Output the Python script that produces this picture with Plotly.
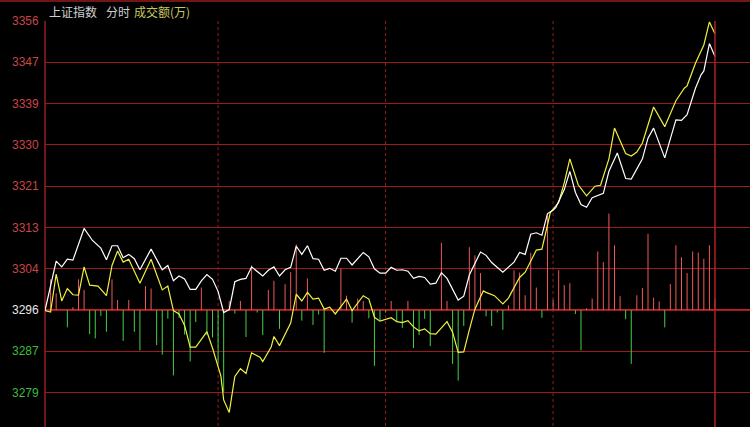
import plotly.graph_objects as go

# ---------------- data ----------------
pre_close = 3296.0
grid_step = 8.6
tick_labels = ["3356", "3347", "3339", "3330", "3321", "3313", "3304", "3296", "3287", "3279"]
session_marks = [62, 122, 182]   # dotted hour separators (minute index)
last_minute = 240

white_t = [0, 4, 6, 8, 10, 14, 17, 20, 22, 24, 26, 28, 30, 32, 34, 38, 42, 44, 46, 48,
           50, 52, 54, 56, 58, 60, 62, 64, 66, 68, 70, 72, 74, 78, 80, 82, 84, 86, 88, 90,
           92, 94, 96, 98, 100, 102, 104, 106, 108, 110, 114, 116, 118, 120, 122, 124, 126, 128, 130, 132,
           134, 136, 138, 140, 142, 144, 148, 150, 152, 154, 156, 158, 160, 164, 166, 168, 170, 172, 174, 176,
           178, 180, 182, 183, 186, 188, 190, 192, 194, 196, 200, 202, 205, 208, 210, 212, 214, 216, 218, 222,
           226, 228, 230, 233, 235, 236, 238, 240]
white_v = [3295.9, 3306.2, 3305.0, 3306.6, 3306.4, 3313.0, 3310.5, 3308.9, 3306.5, 3309.4,
           3309.4, 3306.9, 3307.6, 3306.7, 3304.4, 3308.7, 3304.4, 3305.3, 3302.1, 3303.1,
           3302.5, 3300.3, 3300.3, 3302.1, 3303.4, 3302.4, 3299.9, 3295.5, 3296.1, 3301.9,
           3302.4, 3302.6, 3305.0, 3303.1, 3304.3, 3305.0, 3303.1, 3304.4, 3304.9, 3309.3,
           3307.6, 3309.4, 3306.7, 3306.6, 3304.3, 3304.7, 3304.1, 3306.8, 3306.8, 3305.4,
           3308.0, 3307.1, 3304.6, 3303.7, 3303.7, 3304.9, 3304.3, 3304.4, 3304.1, 3302.6,
           3303.0, 3302.8, 3301.4, 3301.6, 3303.8, 3302.6, 3298.1, 3298.9, 3303.3, 3305.8,
           3308.1, 3307.4, 3305.9, 3303.9, 3304.9, 3306.0, 3308.0, 3307.6, 3311.8, 3312.1,
           3311.6, 3316.1, 3316.8, 3317.4, 3321.1, 3324.9, 3320.5, 3318.0, 3317.4, 3319.4,
           3320.3, 3324.9, 3328.7, 3323.4, 3323.3, 3325.3, 3327.5, 3331.8, 3333.9, 3327.7,
           3335.6, 3335.5, 3336.7, 3342.2, 3345.0, 3345.8, 3351.5, 3348.8]

yellow_t = [0, 2, 4, 6, 8, 10, 12, 14, 16, 19, 22, 24, 26, 28, 30, 34, 38, 42, 44, 46,
            48, 50, 52, 54, 58, 60, 63, 64, 66, 68, 70, 72, 74, 77, 78, 81, 82, 84, 88, 90,
            92, 94, 96, 98, 100, 102, 104, 106, 108, 110, 114, 116, 118, 120, 122, 124, 126, 128, 130, 132,
            134, 136, 138, 140, 144, 146, 148, 150, 152, 154, 157, 158, 161, 164, 166, 168, 170, 172, 176, 178,
            181, 184, 186, 188, 191, 194, 197, 199, 202, 204, 208, 210, 212, 214, 217, 218, 222, 226, 229, 230,
            233, 236, 238, 240]
yellow_v = [3295.9, 3295.6, 3303.5, 3297.9, 3300.5, 3299.2, 3299.1, 3305.0, 3301.2, 3301.0,
            3299.0, 3305.3, 3308.3, 3306.0, 3306.6, 3301.6, 3306.6, 3300.2, 3301.0, 3295.9,
            3295.2, 3292.8, 3288.3, 3288.3, 3291.5, 3288.1, 3282.3, 3277.3, 3274.7, 3282.2,
            3283.8, 3282.8, 3287.1, 3286.2, 3285.3, 3288.3, 3290.5, 3288.6, 3293.3, 3299.3,
            3297.9, 3299.7, 3298.3, 3298.5, 3296.2, 3296.6, 3295.2, 3296.7, 3298.3, 3295.9,
            3299.0, 3298.3, 3294.5, 3293.7, 3294.0, 3294.4, 3293.6, 3293.4, 3293.8, 3292.5,
            3291.7, 3292.1, 3291.1, 3291.0, 3293.6, 3291.4, 3287.2, 3287.3, 3291.9, 3296.2,
            3300.0, 3299.7, 3299.0, 3297.3, 3298.5, 3300.7, 3302.8, 3303.9, 3308.5, 3308.7,
            3316.3, 3318.4, 3322.5, 3327.5, 3322.1, 3319.8, 3321.8, 3322.0, 3327.5, 3333.9,
            3328.6, 3328.1, 3328.9, 3330.8, 3336.3, 3338.3, 3334.2, 3339.6, 3342.2, 3342.7,
            3347.4, 3351.2, 3356.0, 3353.5]

bar_t = [2, 4, 8, 10, 12, 14, 16, 18, 20, 22, 24, 26, 28, 30, 32, 34, 36, 38, 40, 42,
         44, 46, 48, 50, 52, 54, 56, 58, 60, 62, 64, 66, 68, 70, 72, 74, 76, 78, 80, 82,
         84, 86, 88, 90, 92, 94, 96, 98, 100, 106, 108, 110, 112, 114, 116, 118, 120, 122, 124, 126,
         128, 130, 132, 134, 136, 138, 142, 144, 146, 148, 150, 152, 154, 156, 158, 160, 162, 164, 166, 168,
         170, 172, 174, 176, 178, 180, 182, 184, 186, 188, 190, 192, 194, 196, 198, 200, 202, 204, 206, 208,
         210, 212, 214, 216, 218, 220, 222, 224, 226, 228, 230, 232, 234, 236, 238, 240]
bar_v = [6.4, 3.5, -3.6, 0.6, 6.4, 4.2, -5.0, -5.9, -1.2, -4.5, 6.4, 2.1, -6.4, 2.1, -4.5, -8.4, 5.0, 4.5, -7.3, -9.3,
         -1.8, -13.6, -1.6, -5.1, -10.7, -2.5, 4.7, -5.2, -5.7, -11.2, -17.0, 1.9, -0.7, 1.9, -5.6, 9.3, -0.5, -5.2, 4.2, 6.1,
         -3.9, 5.4, 7.9, 13.7, -2.2, 6.6, -3.1, -0.9, -8.9, 8.7, 3.0, -2.6, 2.4, 1.9, -1.7, -11.6, -2.2, -0.5, 1.9, -2.4,
         -3.7, 1.9, -7.9, -5.2, -1.8, -7.5, 14.0, 1.9, -11.2, -14.7, -3.3, 13.1, 11.4, 7.7, -1.3, -3.3, -0.5, -4.1, 1.0, 8.3,
         7.8, 3.1, 11.9, 4.7, -1.6, 19.7, 2.2, 8.3, 5.2, 5.6, -0.8, -8.4, 0.4, 2.4, 12.2, 10.0, 20.1, 13.5, 2.9, -1.9,
         -11.2, 3.1, 4.6, 15.9, 2.6, 1.8, -3.6, 5.4, 13.5, 11.0, 7.7, 12.2, 12.0, 10.7, 13.5, 2.3]

# ---------------- styling ----------------
BG = "#000000"
GRID = "#9a1c1c"
BASE = "#c82020"
RED_BAR = "#ee5858"
GREEN_BAR = "#44d044"
LBL_RED = "#c84646"
LBL_GREEN = "#3cbc3c"
LBL_WHITE = "#e8e8e8"

W, H = 750, 427
ML, MT = 45, 20
px_per_min = 670 / 240
px_per_pt = 41.3 / 8.6

grid_vals = [pre_close + grid_step * k for k in range(7, -3, -1)]
top_val = grid_vals[0] + 1 / px_per_pt
plot_h = H - MT
y_range = [top_val - plot_h / px_per_pt, top_val]
x_range = [0, (W - ML) / px_per_min]

fig = go.Figure()

red_t = [t for t, v in zip(bar_t, bar_v) if v >= 0]
red_v = [v for v in bar_v if v >= 0]
grn_t = [t for t, v in zip(bar_t, bar_v) if v < 0]
grn_v = [v for v in bar_v if v < 0]


def seg(ts, vs):
    xs, ys = [], []
    for t, v in zip(ts, vs):
        xs += [t, t, None]
        ys += [pre_close, pre_close + v, None]
    return xs, ys


rx, ry = seg(red_t, red_v)
gx, gy = seg(grn_t, grn_v)
fig.add_trace(go.Scatter(x=rx, y=ry, mode="lines", line=dict(color=RED_BAR, width=1),
                         hoverinfo="skip", showlegend=False))
fig.add_trace(go.Scatter(x=gx, y=gy, mode="lines", line=dict(color=GREEN_BAR, width=1),
                         hoverinfo="skip", showlegend=False))
fig.add_trace(go.Scatter(x=yellow_t, y=yellow_v, mode="lines",
                         line=dict(color="#f0f040", width=1.2), showlegend=False))
fig.add_trace(go.Scatter(x=white_t, y=white_v, mode="lines",
                         line=dict(color="#ffffff", width=1.2), showlegend=False))

shapes = []
# baseline (pre-close)
shapes.append(dict(type="line", xref="paper", x0=0, x1=1, yref="y", y0=pre_close, y1=pre_close,
                   line=dict(color=BASE, width=2), layer="below"))
# left axis line
shapes.append(dict(type="line", xref="paper", x0=0, x1=0, yref="y", y0=grid_vals[0], y1=y_range[0],
                   line=dict(color=GRID, width=1.5), layer="below"))
# dotted session separators
for m in session_marks:
    shapes.append(dict(type="line", xref="x", x0=m, x1=m, yref="y", y0=grid_vals[0], y1=y_range[0],
                       line=dict(color=GRID, width=1, dash="dot"), layer="below"))
# right solid line at last minute
shapes.append(dict(type="line", xref="x", x0=last_minute, x1=last_minute, yref="y",
                   y0=grid_vals[0], y1=y_range[0], line=dict(color="#b02020", width=1.5), layer="above"))
# very top border
shapes.append(dict(type="line", xref="paper", x0=-ML / (W - ML), x1=1, yref="paper",
                   y0=1 + (MT - 1) / plot_h, y1=1 + (MT - 1) / plot_h,
                   line=dict(color=GRID, width=1.5)))

annotations = []
for val, txt in zip(grid_vals, tick_labels):
    if txt == tick_labels[7]:
        col = LBL_WHITE
    elif val > pre_close:
        col = LBL_RED
    else:
        col = LBL_GREEN
    annotations.append(dict(xref="paper", x=0, xanchor="right", xshift=-4, yref="y", y=val,
                            yanchor="middle", text=txt, showarrow=False,
                            font=dict(family="Liberation Sans, Arial", size=12, color=col)))

title_parts = [("上证指数", 2, "#d0d0d0"), ("分时", 59, "#d0d0d0"), ("成交额(万)", 87, "#c8c860")]
for txt, dx, col in title_parts:
    annotations.append(dict(xref="paper", x=0, xanchor="left", xshift=dx, yref="paper", y=1,
                            yanchor="middle", yshift=9, text=txt, showarrow=False,
                            font=dict(family="Noto Sans CJK SC", size=12, color=col)))

fig.update_layout(
    width=W, height=H,
    margin=dict(l=ML, r=0, t=MT, b=0, pad=0, autoexpand=False),
    paper_bgcolor=BG, plot_bgcolor=BG,
    xaxis=dict(range=x_range, visible=False, showgrid=False, zeroline=False, automargin=False),
    yaxis=dict(range=y_range, tickvals=grid_vals, showticklabels=False, ticks="",
               showgrid=True, gridcolor=GRID, gridwidth=1, zeroline=False, showline=False,
               automargin=False),
    shapes=shapes, annotations=annotations, showlegend=False, hovermode=False,
)

fig.write_html(
    "out.html",
    config={"displayModeBar": False, "staticPlot": True},
    post_script="document.body.style.margin='0';document.body.style.overflow='hidden';"
                "document.body.style.background='#000';",
)
